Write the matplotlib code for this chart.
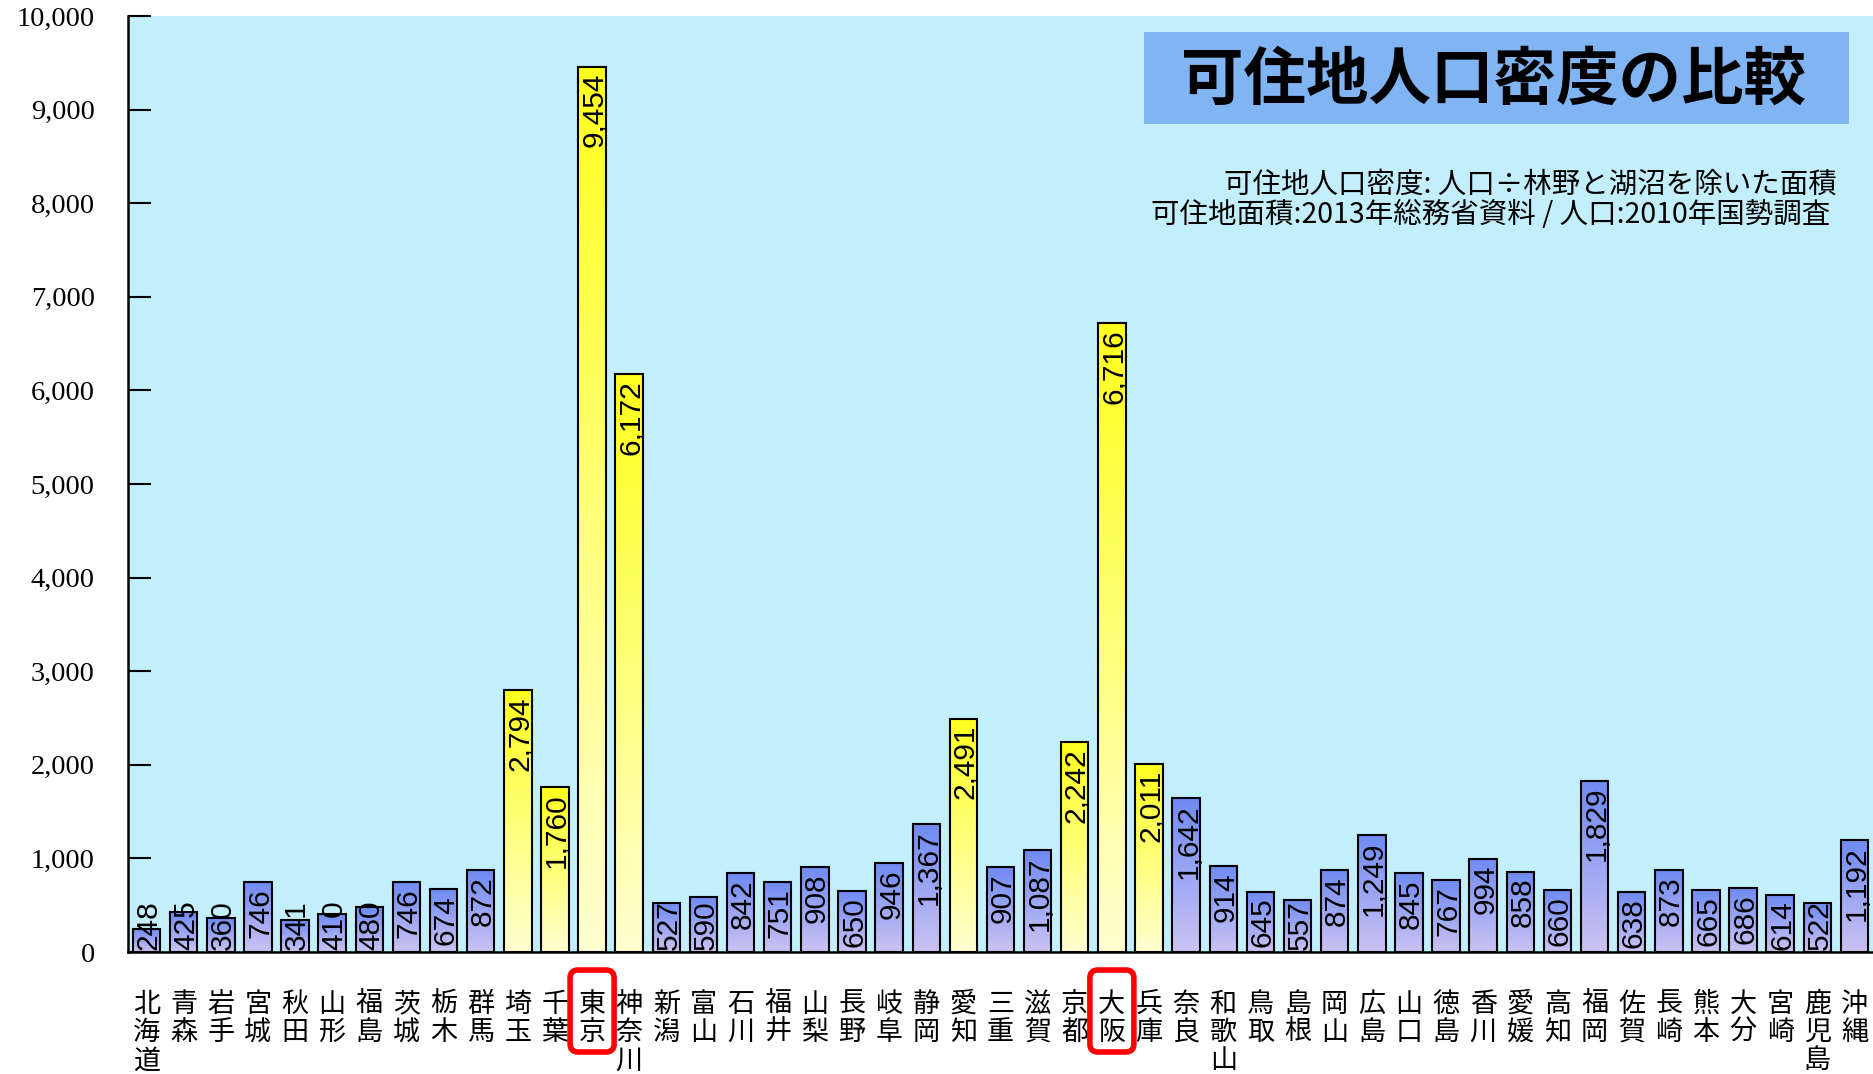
import numpy as np
import matplotlib
matplotlib.use("Agg")
import matplotlib.pyplot as plt
from matplotlib.colors import LinearSegmentedColormap
from matplotlib.patches import FancyBboxPatch
from matplotlib.ticker import FuncFormatter

plt.rcParams["font.family"] = ["Noto Sans CJK JP", "DejaVu Sans"]

prefectures = [
    "北海道", "青森", "岩手", "宮城", "秋田", "山形", "福島", "茨城", "栃木", "群馬",
    "埼玉", "千葉", "東京", "神奈川", "新潟", "富山", "石川", "福井", "山梨", "長野",
    "岐阜", "静岡", "愛知", "三重", "滋賀", "京都", "大阪", "兵庫", "奈良", "和歌山",
    "鳥取", "島根", "岡山", "広島", "山口", "徳島", "香川", "愛媛", "高知", "福岡",
    "佐賀", "長崎", "熊本", "大分", "宮崎", "鹿児島", "沖縄",
]
density = [
    248, 425, 360, 746, 341, 410, 480, 746, 674, 872,
    2794, 1760, 9454, 6172, 527, 590, 842, 751, 908, 650,
    946, 1367, 2491, 907, 1087, 2242, 6716, 2011, 1642, 914,
    645, 557, 874, 1249, 845, 767, 994, 858, 660, 1829,
    638, 873, 665, 686, 614, 522, 1192,
]
metro = ["埼玉", "千葉", "東京", "神奈川", "愛知", "京都", "大阪", "兵庫"]
boxed = ["東京", "大阪"]

title = "可住地人口密度の比較"
note_lines = [
    "可住地人口密度: 人口÷林野と湖沼を除いた面積",
    "可住地面積:2013年総務省資料 / 人口:2010年国勢調査",
]

W, H, DPI = 1873, 1074, 100
fig = plt.figure(figsize=(W / DPI, H / DPI), dpi=DPI)
ax = fig.add_axes([128 / W, 1 - 952 / H, 1 - 128 / W, 936 / H])
ax.set_facecolor("#C3EEFB")

yellow_cmap = LinearSegmentedColormap.from_list("yel", ["#FFFFD2", "#FFFF1E"])
blue_cmap = LinearSegmentedColormap.from_list("blu", ["#CBC3F3", "#6E8AF2"])
grad = np.linspace(0, 1, 256).reshape(-1, 1)

bar_w = 0.74
x = np.arange(len(prefectures))
for i, (name, v) in enumerate(zip(prefectures, density)):
    cmap = yellow_cmap if name in metro else blue_cmap
    ax.imshow(grad, cmap=cmap, origin="lower", aspect="auto",
              extent=[i - bar_w / 2, i + bar_w / 2, 0, v], zorder=2)
ax.bar(x, density, width=bar_w, facecolor="none", edgecolor="black",
       linewidth=1.5, zorder=3)

ax.set_xlim(-0.5, len(prefectures) - 0.5)
ax.set_ylim(0, 10000)

ax.set_yticks(range(0, 10001, 1000))
ax.yaxis.set_major_formatter(FuncFormatter(lambda v, p: f"{int(v):,}"))
ax.tick_params(axis="y", direction="in", length=16.5, width=1.5, pad=24,
               labelsize=20.5, labelfontfamily="Liberation Serif")

ax.set_xticks(x)
ax.set_xticklabels(["\n".join(n) for n in prefectures], fontsize=19.5,
                   linespacing=1.06)
ax.tick_params(axis="x", length=0, pad=28)

for s in ("top", "right"):
    ax.spines[s].set_visible(False)
for s in ("left", "bottom"):
    ax.spines[s].set_linewidth(1.8)
    ax.spines[s].set_zorder(5)

# value labels, rotated inside the bars; short bars get them stood on the axis
labels = []
for i, v in enumerate(density):
    t = ax.text(i + 0.06, v, f"{v:,}", rotation=90, ha="center", va="top",
                fontsize=21.5, family="Liberation Sans", zorder=4)
    labels.append(t)

fig.canvas.draw()
renderer = fig.canvas.get_renderer()
y0_px = ax.transData.transform((0, 0))[1]
for t, v in zip(labels, density):
    top_px = ax.transData.transform((0, v))[1] - 6
    t.set_y(ax.transData.inverted().transform((0, top_px))[1])
    ext = t.get_window_extent(renderer)
    if ext.y0 < y0_px + 2:
        t.set_va("bottom")
        t.set_y(ax.transData.inverted().transform((0, y0_px + 2))[1])

# title box and source notes
fig.patches.append(plt.Rectangle((1144 / W, 1 - 124 / H), 705 / W, 92 / H,
                                 transform=fig.transFigure, facecolor="#80B4F2",
                                 edgecolor="none", zorder=6))
fig.text(1494 / W, 1 - 80 / H, title, ha="center", va="center", fontsize=45,
         fontweight="bold", zorder=7)
fig.text(1837 / W, 1 - 185 / H, note_lines[0], ha="right", va="center",
         fontsize=20.5, zorder=7)
fig.text(1830 / W, 1 - 215 / H, note_lines[1], ha="right", va="center",
         fontsize=20.5, zorder=7)

# red rounded frames around the two highlighted prefecture names (inches)
for name in boxed:
    i = prefectures.index(name)
    cx = ax.transData.transform((i, 0))[0] / DPI
    bw, top, bot = 0.44, (H - 970) / DPI, (H - 1052) / DPI
    box = FancyBboxPatch((cx - bw / 2, bot), bw, top - bot,
                         boxstyle="round,pad=0,rounding_size=0.08",
                         transform=fig.dpi_scale_trans, facecolor="none",
                         edgecolor="#FF0000", linewidth=4, zorder=8)
    fig.add_artist(box)

fig.savefig("out.png", dpi=DPI)
